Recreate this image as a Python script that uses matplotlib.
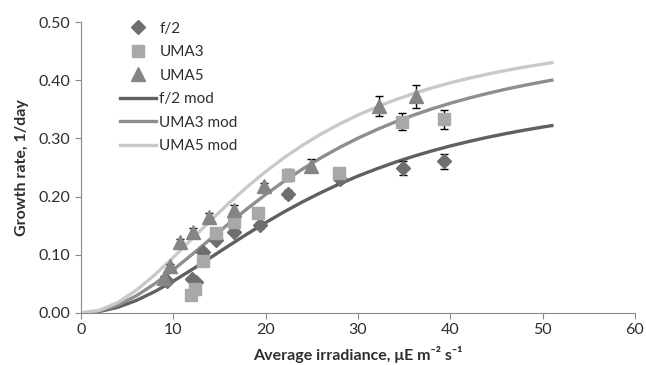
"""Growth rate vs average irradiance, with model curves."""

import matplotlib
matplotlib.use("Agg")
import matplotlib.pyplot as plt

f2_x = [9.3, 12.0, 12.5, 13.2, 14.6, 16.6, 19.4, 22.4, 28.0, 34.9, 39.3]
f2_y = [0.055, 0.058, 0.053, 0.105, 0.125, 0.140, 0.151, 0.204, 0.230, 0.249, 0.261]
f2_err = [0.004, 0.004, 0.004, 0.005, 0.005, 0.005, 0.005, 0.007, 0.006, 0.012, 0.013]

uma3_x = [11.9, 12.4, 13.2, 14.6, 16.6, 19.2, 22.4, 27.9, 34.8, 39.3]
uma3_y = [0.031, 0.041, 0.090, 0.137, 0.157, 0.171, 0.237, 0.240, 0.329, 0.333]
uma3_err = [0.004, 0.004, 0.005, 0.005, 0.006, 0.006, 0.010, 0.010, 0.015, 0.016]

uma5_x = [9.0, 9.6, 10.7, 12.1, 13.9, 16.6, 19.8, 24.9, 32.3, 36.3]
uma5_y = [0.060, 0.080, 0.122, 0.140, 0.165, 0.177, 0.218, 0.253, 0.355, 0.372]
uma5_err = [0.004, 0.005, 0.005, 0.006, 0.006, 0.008, 0.006, 0.011, 0.017, 0.019]

# model curves
mod_x = [0, 2, 4, 6, 8, 10, 12, 14, 16, 18, 20, 22, 24, 26,
         28, 30, 32, 34, 36, 38, 40, 42, 44, 46, 48, 50, 51]
f2_mod = [0.0, 0.0025, 0.0099, 0.0216, 0.0369, 0.0548, 0.0744, 0.0949, 0.1156,
          0.1358, 0.1553, 0.1738, 0.1910, 0.2070, 0.2218, 0.2353, 0.2476, 0.2589,
          0.2692, 0.2785, 0.2870, 0.2947, 0.3018, 0.3082, 0.3141, 0.3195, 0.3220]
uma3_mod = [0.0, 0.0035, 0.0136, 0.0296, 0.0503, 0.0743, 0.1002, 0.1269, 0.1535,
            0.1792, 0.2036, 0.2264, 0.2474, 0.2668, 0.2844, 0.3004, 0.3149, 0.3281,
            0.3399, 0.3507, 0.3604, 0.3692, 0.3772, 0.3845, 0.3911, 0.3972, 0.4000]
uma5_mod = [0.0, 0.0047, 0.0182, 0.0392, 0.0657, 0.0956, 0.1270, 0.1583, 0.1885,
            0.2169, 0.2430, 0.2668, 0.2883, 0.3076, 0.3248, 0.3401, 0.3538, 0.3661,
            0.3770, 0.3867, 0.3955, 0.4033, 0.4103, 0.4167, 0.4224, 0.4276, 0.4301]

x_ticks = [0, 10, 20, 30, 40, 50, 60]
y_ticks = [0.0, 0.1, 0.2, 0.3, 0.4, 0.5]

plt.rcParams["font.family"] = ["Lato", "DejaVu Sans"]
plt.rcParams["font.size"] = 11

fig = plt.figure(figsize=(6.46, 3.65), dpi=100)
ax = fig.add_axes([81 / 646, 52 / 365, 554 / 646, 291 / 365])

ax.plot(mod_x, f2_mod, color="#606060", lw=2.4, label="f/2 mod", zorder=2)
ax.plot(mod_x, uma3_mod, color="#8e8e8e", lw=2.4, label="UMA3 mod", zorder=2)
ax.plot(mod_x, uma5_mod, color="#c9c9c9", lw=2.4, label="UMA5 mod", zorder=2)

ebkw = dict(ls="none", ecolor="black", elinewidth=1, capsize=3, capthick=1, zorder=3)
h1 = ax.errorbar(f2_x, f2_y, yerr=f2_err, marker="D", ms=7.5, color="#6e6e6e", **ebkw)
h2 = ax.errorbar(uma3_x, uma3_y, yerr=uma3_err, marker="s", ms=9, color="#a8a8a8", **ebkw)
h3 = ax.errorbar(uma5_x, uma5_y, yerr=uma5_err, marker="^", ms=9.5, color="#858585", **ebkw)

ax.set_xlim(0, 60)
ax.set_ylim(0, 0.5)
ax.set_xticks(x_ticks)
ax.set_yticks(y_ticks)
ax.set_yticklabels([f"{v:.2f}" for v in y_ticks])
for s in ["top", "right"]:
    ax.spines[s].set_visible(False)
for s in ["left", "bottom"]:
    ax.spines[s].set_color("#8a8a8a")
ax.tick_params(colors="#8a8a8a", labelcolor="#2e2e2e", length=4, labelsize=11.5)

ax.set_xlabel("Average irradiance, μE m⁻² s⁻¹", fontweight="bold", fontsize=11.5,
              color="#2e2e2e", labelpad=6)
ax.set_ylabel("Growth rate, 1/day", fontweight="bold", fontsize=11.5, color="#2e2e2e",
              labelpad=7)

lines = ax.get_lines()
handles = [h1[0], h2[0], h3[0]] + [l for l in lines if l.get_label().endswith("mod")]
labels = ["f/2", "UMA3", "UMA5", "f/2 mod", "UMA3 mod", "UMA5 mod"]
ax.legend(handles, labels, loc="upper left", bbox_to_anchor=(112 / 646, 1 - 14 / 365),
          bbox_transform=fig.transFigure, frameon=False, borderpad=0, handlelength=2.4,
          handletextpad=0.2, labelspacing=0.62, fontsize=11, labelcolor="#2e2e2e")

fig.savefig("out.png", dpi=100)
